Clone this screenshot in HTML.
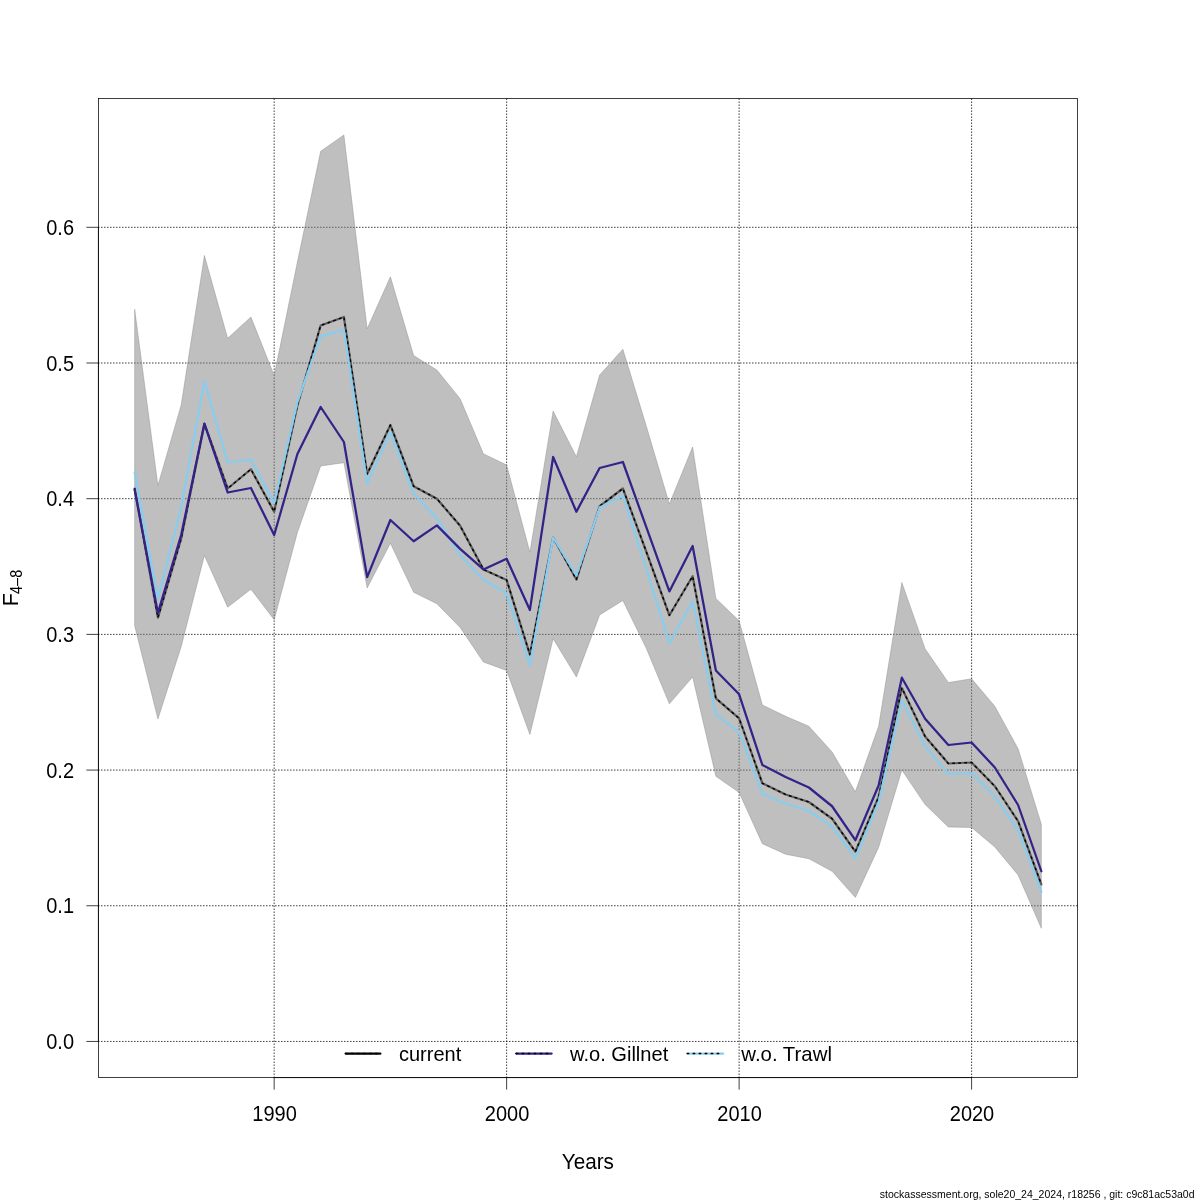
<!DOCTYPE html>
<html lang="en">
<head>
<meta charset="utf-8">
<title>F4-8 leave-one-out</title>
<style>
html,body{margin:0;padding:0;background:#fff;}
body{width:1200px;height:1200px;overflow:hidden;}
svg{display:block;}
text{font-family:"Liberation Sans",Arial,Helvetica,sans-serif;fill:#000;}
.t20{font-size:20px;}
.ln{fill:none;stroke-linejoin:round;stroke-linecap:round;}
.ax{stroke:#000;stroke-width:0.75;fill:none;}
.tk{stroke:#000;stroke-width:1;fill:none;}
.gr{stroke:#000;stroke-width:0.75;fill:none;stroke-dasharray:0.75 2.25;stroke-linecap:round;}
</style>
</head>
<body>
<svg width="1200" height="1200" viewBox="0 0 1200 1200">
<rect x="0" y="0" width="1200" height="1200" fill="#ffffff"/>

<g class="gr">
<line x1="274.16" y1="1077.6" x2="274.16" y2="98.4"/>
<line x1="506.64" y1="1077.6" x2="506.64" y2="98.4"/>
<line x1="739.12" y1="1077.6" x2="739.12" y2="98.4"/>
<line x1="971.60" y1="1077.6" x2="971.60" y2="98.4"/>
<line x1="98.4" y1="1041.45" x2="1077.6" y2="1041.45"/>
<line x1="98.4" y1="905.76" x2="1077.6" y2="905.76"/>
<line x1="98.4" y1="770.07" x2="1077.6" y2="770.07"/>
<line x1="98.4" y1="634.38" x2="1077.6" y2="634.38"/>
<line x1="98.4" y1="498.69" x2="1077.6" y2="498.69"/>
<line x1="98.4" y1="363.00" x2="1077.6" y2="363.00"/>
<line x1="98.4" y1="227.31" x2="1077.6" y2="227.31"/>
</g>
<polygon fill="#808080" fill-opacity="0.5" stroke="#808080" stroke-opacity="0.5" stroke-width="0.75" stroke-linejoin="round" points="134.67,309.25 157.92,485.40 181.17,405.00 204.41,255.50 227.66,338.30 250.91,317.00 274.16,375.50 297.41,262.00 320.65,151.25 343.90,135.00 367.15,328.80 390.40,276.75 413.65,355.50 436.89,370.00 460.14,398.75 483.39,453.75 506.64,465.00 529.89,552.30 553.13,411.05 576.38,456.75 599.63,375.00 622.88,349.25 646.13,425.50 669.37,504.00 692.62,447.00 715.87,598.40 739.12,620.80 762.37,705.00 785.61,716.25 808.86,726.25 832.11,752.00 855.36,791.70 878.61,726.25 901.85,582.50 925.10,648.75 948.35,682.50 971.60,678.75 994.85,706.25 1018.09,748.75 1041.34,824.20 1041.34,928.30 1018.09,875.00 994.85,847.00 971.60,827.50 948.35,827.00 925.10,804.60 901.85,770.00 878.61,847.50 855.36,897.50 832.11,871.25 808.86,858.75 785.61,854.25 762.37,843.75 739.12,792.50 715.87,776.25 692.62,677.00 669.37,703.75 646.13,648.00 622.88,600.50 599.63,615.00 576.38,677.00 553.13,638.75 529.89,734.55 506.64,670.50 483.39,662.00 460.14,627.50 436.89,603.75 413.65,592.30 390.40,543.30 367.15,587.95 343.90,462.70 320.65,466.00 297.41,532.50 274.16,619.70 250.91,589.20 227.66,607.20 204.41,555.50 181.17,646.70 157.92,719.00 134.67,625.80"/>
<polyline class="ln" stroke="#5c5c5c" stroke-width="2.25" points="134.67,488.70 157.92,617.60 181.17,538.75 204.41,423.75 227.66,488.50 250.91,469.25 274.16,511.70 297.41,405.50 320.65,325.50 343.90,317.00 367.15,474.00 390.40,425.00 413.65,486.25 436.89,498.75 460.14,525.80 483.39,569.40 506.64,580.00 529.89,654.55 553.13,537.50 576.38,579.55 599.63,506.25 622.88,488.50 646.13,551.25 669.37,615.25 692.62,576.25 715.87,698.30 739.12,718.30 762.37,783.25 785.61,794.50 808.86,802.00 832.11,818.75 855.36,851.60 878.61,797.00 901.85,688.00 925.10,736.50 948.35,763.50 971.60,762.50 994.85,786.25 1018.09,821.20 1041.34,884.35"/>
<polyline class="ln" stroke="#000" stroke-width="1.5" stroke-dasharray="1.5 4.5" points="134.67,488.70 157.92,617.60 181.17,538.75 204.41,423.75 227.66,488.50 250.91,469.25 274.16,511.70 297.41,405.50 320.65,325.50 343.90,317.00 367.15,474.00 390.40,425.00 413.65,486.25 436.89,498.75 460.14,525.80 483.39,569.40 506.64,580.00 529.89,654.55 553.13,537.50 576.38,579.55 599.63,506.25 622.88,488.50 646.13,551.25 669.37,615.25 692.62,576.25 715.87,698.30 739.12,718.30 762.37,783.25 785.61,794.50 808.86,802.00 832.11,818.75 855.36,851.60 878.61,797.00 901.85,688.00 925.10,736.50 948.35,763.50 971.60,762.50 994.85,786.25 1018.09,821.20 1041.34,884.35"/>
<polyline class="ln" stroke="#88CCEE" stroke-width="2.25" points="134.67,472.50 157.92,598.70 181.17,507.50 204.41,381.00 227.66,462.50 250.91,459.50 274.16,503.00 297.41,402.00 320.65,336.30 343.90,330.00 367.15,483.50 390.40,432.00 413.65,493.75 436.89,518.50 460.14,555.20 483.39,579.50 506.64,593.50 529.89,665.20 553.13,537.50 576.38,575.50 599.63,507.50 622.88,495.50 646.13,568.00 669.37,643.30 692.62,601.25 715.87,714.55 739.12,732.05 762.37,793.75 785.61,803.75 808.86,810.75 832.11,826.50 855.36,858.20 878.61,802.50 901.85,700.00 925.10,746.25 948.35,773.75 971.60,773.10 994.85,796.25 1018.09,830.00 1041.34,891.85"/>
<polyline class="ln" stroke="#332288" stroke-width="2.25" points="134.67,489.70 157.92,612.90 181.17,535.00 204.41,423.75 227.66,492.50 250.91,488.00 274.16,535.00 297.41,454.00 320.65,407.00 343.90,442.00 367.15,577.05 390.40,520.00 413.65,541.25 436.89,525.40 460.14,548.90 483.39,569.40 506.64,558.80 529.89,610.00 553.13,457.00 576.38,511.75 599.63,468.00 622.88,462.00 646.13,526.70 669.37,591.40 692.62,546.00 715.87,670.50 739.12,694.30 762.37,765.00 785.61,777.00 808.86,787.50 832.11,806.25 855.36,840.20 878.61,785.50 901.85,677.70 925.10,718.75 948.35,745.00 971.60,742.50 994.85,767.50 1018.09,805.00 1041.34,871.25"/>
<rect class="ax" x="98.4" y="98.4" width="979.2" height="979.2"/>
<g class="ax">
<line x1="274.16" y1="1077.6" x2="971.60" y2="1077.6"/>
<line x1="274.16" y1="1077.6" x2="274.16" y2="1089.6"/>
<line x1="506.64" y1="1077.6" x2="506.64" y2="1089.6"/>
<line x1="739.12" y1="1077.6" x2="739.12" y2="1089.6"/>
<line x1="971.60" y1="1077.6" x2="971.60" y2="1089.6"/>
<line x1="98.4" y1="1041.45" x2="98.4" y2="227.31"/>
<line x1="98.4" y1="1041.45" x2="86.4" y2="1041.45"/>
<line x1="98.4" y1="905.76" x2="86.4" y2="905.76"/>
<line x1="98.4" y1="770.07" x2="86.4" y2="770.07"/>
<line x1="98.4" y1="634.38" x2="86.4" y2="634.38"/>
<line x1="98.4" y1="498.69" x2="86.4" y2="498.69"/>
<line x1="98.4" y1="363.00" x2="86.4" y2="363.00"/>
<line x1="98.4" y1="227.31" x2="86.4" y2="227.31"/>
</g>
<g class="t20">
<text transform="translate(274.56 1120.8) scale(1 1.07)" text-anchor="middle">1990</text>
<text transform="translate(507.04 1120.8) scale(1 1.07)" text-anchor="middle">2000</text>
<text transform="translate(739.52 1120.8) scale(1 1.07)" text-anchor="middle">2010</text>
<text transform="translate(972.00 1120.8) scale(1 1.07)" text-anchor="middle">2020</text>
<text transform="translate(74 1049.05) scale(1 1.07)" text-anchor="end">0.0</text>
<text transform="translate(74 913.36) scale(1 1.07)" text-anchor="end">0.1</text>
<text transform="translate(74 777.67) scale(1 1.07)" text-anchor="end">0.2</text>
<text transform="translate(74 641.98) scale(1 1.07)" text-anchor="end">0.3</text>
<text transform="translate(74 506.29) scale(1 1.07)" text-anchor="end">0.4</text>
<text transform="translate(74 370.60) scale(1 1.07)" text-anchor="end">0.5</text>
<text transform="translate(74 234.91) scale(1 1.07)" text-anchor="end">0.6</text>
<text transform="translate(587.9 1168.8) scale(1 1.03)" text-anchor="middle" font-size="20.7px">Years</text>
<text transform="translate(18 606.2) rotate(-90)" font-size="21.5px">F</text><text transform="translate(22.1 593.9) rotate(-90) scale(0.975 1.06)" font-size="14.8px">4–8</text>
<text transform="translate(399 1061.2) scale(1 1.04)">current</text>
<text transform="translate(570 1061.2) scale(1.005 1.04)">w.o. Gillnet</text>
<text transform="translate(741.3 1061.2) scale(1.02 1.04)">w.o. Trawl</text>
</g>
<line class="ln" x1="345.6" y1="1053.5" x2="380.4" y2="1053.5" stroke="#000" stroke-width="2.25"/><line class="ln" x1="345.6" y1="1053.5" x2="380.4" y2="1053.5" stroke="#000" stroke-width="1.5" stroke-dasharray="1.5 4.5"/>
<line class="ln" x1="516.2" y1="1053.5" x2="551.6" y2="1053.5" stroke="#332288" stroke-width="2.25"/><line class="ln" x1="516.2" y1="1053.5" x2="551.6" y2="1053.5" stroke="#000" stroke-width="1.5" stroke-dasharray="1.5 4.5"/>
<line class="ln" x1="687.2" y1="1053.5" x2="723.1" y2="1053.5" stroke="#88CCEE" stroke-width="2.25"/><line class="ln" x1="687.2" y1="1053.5" x2="723.1" y2="1053.5" stroke="#000" stroke-width="1.5" stroke-dasharray="1.5 4.5"/>
<text x="1194.5" y="1197.6" text-anchor="end" font-size="10.5px">stockassessment.org, sole20_24_2024, r18256 , git: c9c81ac53a0d</text>
</svg>
</body>
</html>
